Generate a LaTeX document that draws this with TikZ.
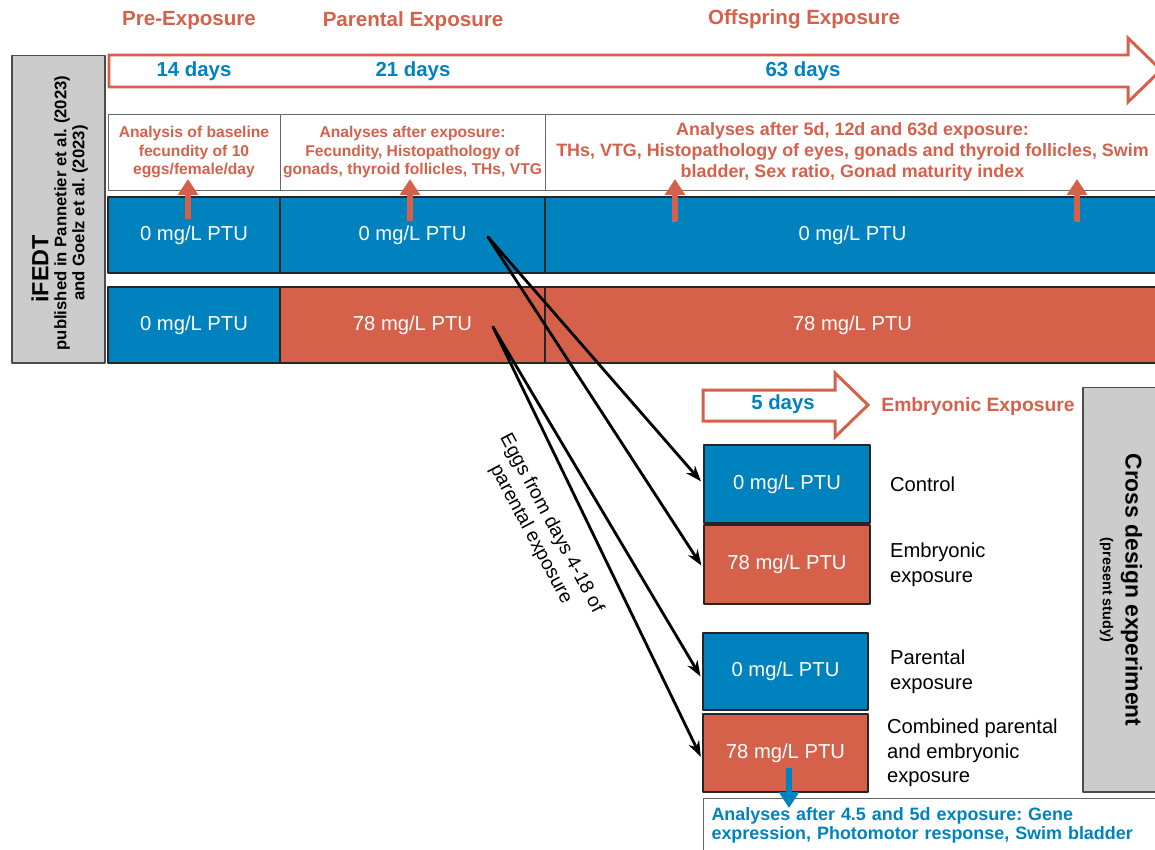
\documentclass[tikz,border=0pt]{standalone}
\usepackage{fontspec}
\setmainfont{Liberation Sans}
\usepackage[dvipsnames]{xcolor}
\usetikzlibrary{arrows.meta}
\usetikzlibrary{positioning}
\definecolor{tomato}{RGB}{213,97,75}
\definecolor{ocean}{RGB}{0,130,190}
\definecolor{lightgrey}{RGB}{204,204,204}
\frenchspacing

\begin{document}
\begin{tikzpicture}[line cap=round,line join=round,x=0.02cm,y=-0.02cm,
  dose/.style={draw=black!85,line width=0.8pt,text=white,inner sep=0pt,font=\fontsize{11.5}{13}\selectfont},
  ctl/.style={dose,fill=ocean},
  ptu/.style={dose,fill=tomato},
  infobox/.style={draw=black!60,line width=0.5pt,fill=white,inner sep=0pt,align=center,text=tomato,font=\bfseries\fontsize{8.9}{10.5}\selectfont},
  phase/.style={text=tomato,inner sep=0pt,font=\bfseries\fontsize{11.7}{13}\selectfont},
  period/.style={text=ocean,inner sep=0pt,font=\bfseries\fontsize{11.6}{13}\selectfont},
  grp/.style={align=left,inner sep=0pt,font=\fontsize{11.5}{14}\selectfont},
  sidebox/.style={draw=black!70,line width=0.6pt,fill=lightgrey,inner sep=0pt},
  timearrow/.style={draw=tomato,line width=1.7pt,fill=white,line cap=butt,line join=miter},
  uparr/.style={tomato,line width=3.6pt,line cap=butt,-{Triangle[width=11pt,length=9pt]}},
  dnarr/.style={ocean,line width=3.4pt,line cap=butt,-{Triangle[width=11pt,length=9pt]}},
  eggarr/.style={black,line width=1.6pt,shorten >=2pt,-{Stealth[length=9pt,width=6.5pt]}}
]
\useasboundingbox (0,0) rectangle (1155,849);

% phases and time line
\node[phase] (pre) at (189,21) {Pre-Exposure};
\node[phase] (par) at (413,21) {Parental Exposure};
\node[phase] (off) at (804,19) {Offspring Exposure};
\draw[timearrow] (109,55) -- (1128,55) -- (1128,38) -- (1161,70) -- (1128,102) -- (1128,87) -- (109,87) -- cycle;
\node[period] (d14) at (194,71) {14 days};
\node[period] (d21) at (413,71) {21 days};
\node[period] (d63) at (803,71) {63 days};

% iFEDT
\node[sidebox,minimum width=1.86cm,minimum height=6.16cm] (ifedt) at (58.5,209) {};
\node[rotate=90,inner sep=0pt,font=\bfseries\fontsize{13.3}{15}\selectfont] (ifedtname) at (40,269) {iFEDT};
\node[rotate=90,inner sep=0pt,align=center,font=\bfseries\fontsize{9.5}{10.3}\selectfont] (ifedtref) at (71,213) {published in Pannetier et al. (2023)\\and Goelz et al. (2023)};

\node[infobox,minimum width=3.44cm,minimum height=1.52cm] (a1) at (194,152) {Analysis of baseline\\fecundity of 10\\eggs/female/day};
\node[infobox,minimum width=5.3cm,minimum height=1.52cm] (a2) at (412.5,152) {Analyses after exposure:\\Fecundity, Histopathology of\\gonads, thyroid follicles, THs, VTG};
\node[infobox,minimum width=12.3cm,minimum height=1.52cm,font=\bfseries\fontsize{10.2}{11.9}\selectfont] (a3) at (852.5,152) {Analyses after 5d, 12d and 63d exposure:\\THs, VTG, Histopathology of eyes, gonads and thyroid follicles, Swim\\bladder, Sex ratio, Gonad maturity index};

\node[ctl,minimum width=3.44cm,minimum height=1.52cm] (r1a) at (194,235) {0 mg/L PTU};
\node[ctl,minimum width=5.3cm,minimum height=1.52cm] (r1b) at (412.5,235) {0 mg/L PTU};
\node[ctl,minimum width=12.3cm,minimum height=1.52cm] (r1c) at (852.5,235) {0 mg/L PTU};
\node[ctl,minimum width=3.44cm,minimum height=1.52cm] (r2a) at (194,325) {0 mg/L PTU};
\node[ptu,minimum width=5.3cm,minimum height=1.52cm] (r2b) at (412.5,325) {78 mg/L PTU};
\node[ptu,minimum width=12.3cm,minimum height=1.52cm] (r2c) at (852.5,325) {78 mg/L PTU};

\foreach \i/\ux/\uy in {1/188/219,2/410/221,3/675/222,4/1077/222}
{
\coordinate (ua\i) at (\ux,\uy);
\coordinate (ub\i) at (\ux,179);
\draw[uparr] (ua\i) -- (ub\i);
}

% cross design
\draw[timearrow] (703,390) -- (835,390) -- (835,373) -- (868,405) -- (835,437) -- (835,421) -- (703,421) -- cycle;
\node[period] (d5) at (783,404) {5 days};
\node[phase,anchor=west,font=\bfseries\fontsize{11}{13}\selectfont] (emb) at (881,406) {Embryonic Exposure};

\node[ctl,minimum width=3.32cm,minimum height=1.56cm] (ctrl) at (787,484) {0 mg/L PTU};
\node[ptu,minimum width=3.32cm,minimum height=1.58cm] (embr) at (787,564.5) {78 mg/L PTU};
\node[ctl,minimum width=3.3cm,minimum height=1.54cm] (pare) at (785.5,671.5) {0 mg/L PTU};
\node[ptu,minimum width=3.3cm,minimum height=1.56cm] (comb) at (785.5,753) {78 mg/L PTU};

\node[grp,right=0.38cm of ctrl] (lctrl) {Control};
\node[grp,right=0.38cm of embr] (lembr) {Embryonic\\exposure};
\node[grp,right=0.42cm of pare] (lpare) {Parental\\exposure};
\node[grp,right=0.36cm of comb] (lcomb) {Combined parental\\and embryonic\\exposure};

\node[sidebox,minimum width=1.54cm,minimum height=8.1cm] (cross) at (1121.5,589.5) {};
\node[rotate=-90,inner sep=0pt,align=center,font=\bfseries\fontsize{13}{13}\selectfont] (crossname) at (1121,590) {Cross design experiment\\{\fontsize{8.2}{9}\selectfont(present study)}};

\node[draw=black!60,line width=0.5pt,fill=white,minimum width=9.14cm,minimum height=1.1cm,text width=8.8cm,inner xsep=0.17cm,inner ysep=0pt,align=left,text=ocean,font=\bfseries\fontsize{10.2}{11}\selectfont] (res) at (931.5,825.5) {Analyses after 4.5 and 5d exposure: Gene\\expression, Photomotor response, Swim bladder};
\coordinate (dn1) at (789,768);
\coordinate (dn2) at (789,808);
\draw[dnarr] (dn1) -- (dn2);

% eggs
\coordinate (src0) at (488,237);
\coordinate (src78) at (493,327);
\draw[eggarr] (src0) -- (ctrl.west);
\draw[eggarr] (src0) -- ([yshift=-0.08cm]embr.west);
\draw[eggarr] (src78) -- ([yshift=-0.16cm]pare.west);
\draw[eggarr] (src78) -- ([yshift=-0.14cm]comb.west);
\node[rotate=-62,inner sep=0pt,align=center,font=\fontsize{11}{13.2}\selectfont] (eggs) at (541,529) {Eggs from days 4-18 of\\parental exposure};
\end{tikzpicture}
\end{document}
